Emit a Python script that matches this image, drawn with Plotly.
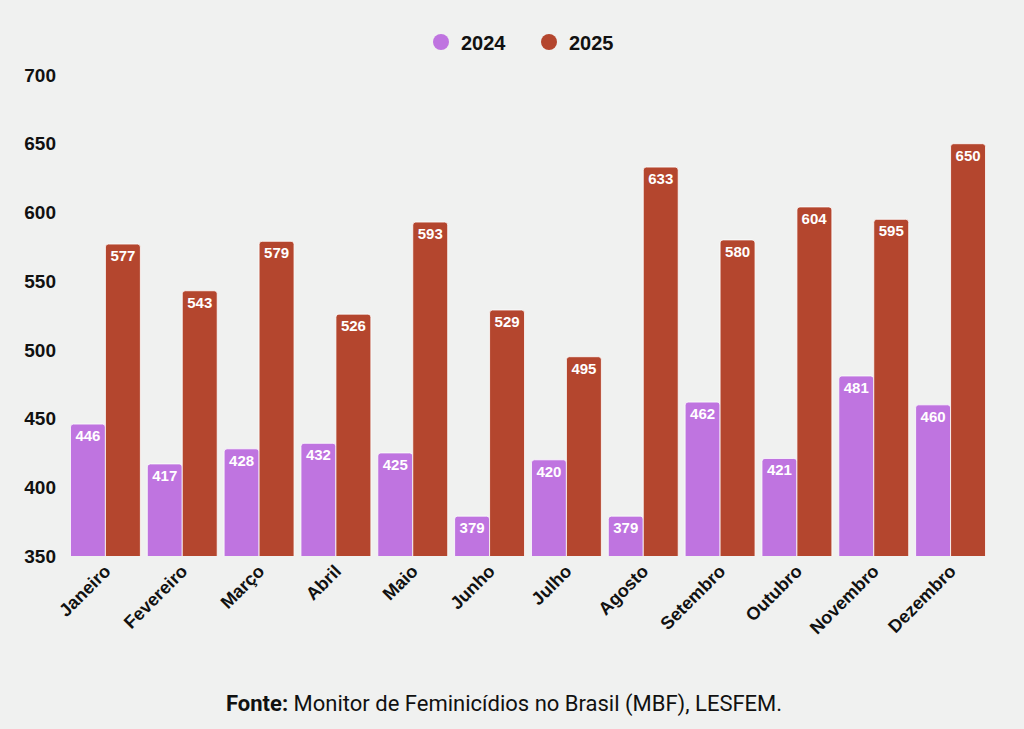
import plotly.graph_objects as go

months = ["Janeiro", "Fevereiro", "Março", "Abril", "Maio", "Junho", "Julho",
          "Agosto", "Setembro", "Outubro", "Novembro", "Dezembro"]
v2024 = [446, 417, 428, 432, 425, 379, 420, 379, 462, 421, 481, 460]
v2025 = [577, 543, 579, 526, 593, 529, 495, 633, 580, 604, 595, 650]
yticks = [350, 400, 450, 500, 550, 600, 650, 700]

C24 = "#bf74e0"
C25 = "#b4462e"
BG = "#f0f1f0"
FONT = "Liberation Sans"
FOOT = "Roboto"

fig = go.Figure()
for name, vals, col in [("2024", v2024, C24), ("2025", v2025, C25)]:
    fig.add_trace(go.Bar(
        x=months, y=vals, name=name, showlegend=False,
        marker=dict(color=col, line=dict(color="rgba(255,255,255,0.8)", width=1), cornerradius=3),
        text=[str(v) for v in vals], textposition="inside",
        insidetextanchor="end",
        textfont=dict(color="white", size=15, family=FONT, weight="bold"),
        textangle=0, cliponaxis=False,
    ))
    fig.add_trace(go.Scatter(
        x=[None], y=[None], mode="markers", name=name,
        marker=dict(color=col, size=20, symbol="circle"),
    ))

PH = 729 - 75 - 173  # plot height in px
fig.update_layout(
    width=1024, height=729,
    paper_bgcolor=BG, plot_bgcolor=BG,
    barmode="group", bargap=0.09, bargroupgap=0.0,
    margin=dict(l=67, r=35, t=75, b=173),
    font=dict(family=FONT, color="#111111"),
    legend=dict(orientation="h", x=(529 - 67) / 922, xanchor="center",
                y=1 + 33 / PH, yref="paper", yanchor="middle",
                font=dict(size=20, family=FONT, weight="bold"),
                itemsizing="trace", itemwidth=30, traceorder="normal",
                entrywidth=63, entrywidthmode="pixels"),
    xaxis=dict(tickangle=-45, tickfont=dict(size=18, family=FONT, weight="bold"),
               showgrid=False, showline=False, ticks=""),
    yaxis=dict(range=[350, 700], tickvals=yticks, showgrid=False, zeroline=False,
               tickfont=dict(size=19, family=FONT, weight="bold"),
               ticklabelstandoff=10),
    annotations=[dict(
        text="<b>Fonte:</b> Monitor de Feminicídios no Brasil (MBF), LESFEM.",
        x=(504 - 67) / 922, xref="paper", xanchor="center", y=-148 / PH, yref="paper",
        yanchor="middle", showarrow=False,
        font=dict(size=22, family=FOOT, color="#111111"),
    )],
)
fig.write_html("out.html", config={"displayModeBar": False},
               post_script="document.body.style.margin='0';document.body.style.background='#f0f1f0';window.dispatchEvent(new Event('resize'));")
